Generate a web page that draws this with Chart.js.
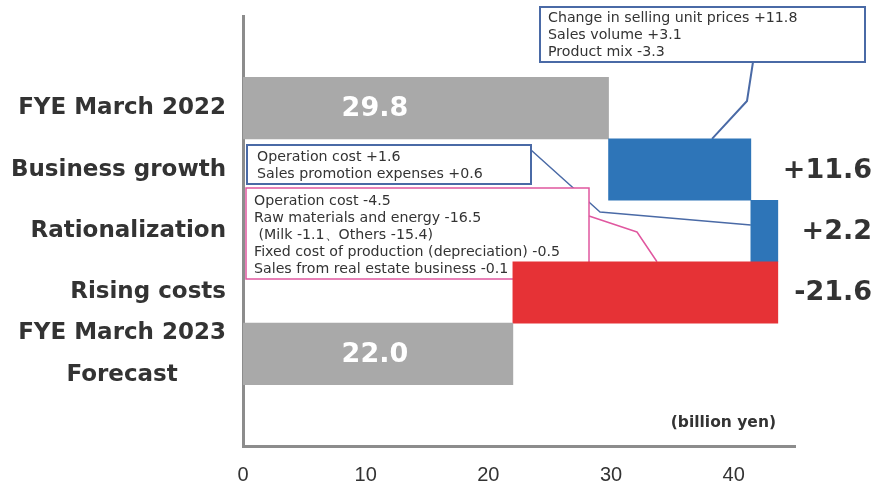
<!DOCTYPE html>
<html>
<head>
<meta charset="utf-8">
<script src="https://cdn.jsdelivr.net/npm/chart.js@4/dist/chart.umd.min.js"></script>
<style>
  html, body { margin: 0; padding: 0; background: #ffffff; }
  canvas { display: block; }
</style>
</head>
<body>
<canvas id="c" width="885" height="490" style="width:885px;height:490px"></canvas>
<script>
// Operating profit bridge, FYE March 2022 -> FYE March 2023 forecast (billion yen)
const categories = ['FYE March 2022', 'Business growth', 'Rationalization', 'Rising costs', ['FYE March 2023', 'Forecast']];
const amounts = [29.8, 11.6, 2.2, -21.6, 22.0];
const isTotal = [true, false, false, false, true];
const xTicks = [0, 10, 20, 30, 40];
const unitLabel = '(billion yen)';

const priceNotes = ['Change in selling unit prices +11.8', 'Sales volume +3.1', 'Product mix -3.3'];
const rationalNotes = ['Operation cost +1.6', 'Sales promotion expenses +0.6'];
const costNotes = ['Operation cost -4.5', 'Raw materials and energy -16.5', ' (Milk -1.1\u3001Others -15.4)',
                   'Fixed cost of production (depreciation) -0.5', 'Sales from real estate business -0.1'];

const GRAY = '#a9a9a9', BLUE = '#2e75b8', RED = '#e63236';
const TEXT = '#333333';
const FONT = '"DejaVu Sans", Verdana, sans-serif';
const TICK_FONT = '"Liberation Sans", Arial, sans-serif';

// running totals turn each step into a floating bar
let running = 0;
const ranges = amounts.map((v, i) => {
  if (isTotal[i]) { running = v; return [0, v]; }
  const from = running; running += v; return [from, running];
});
const colors = amounts.map((v, i) => isTotal[i] ? GRAY : (v > 0 ? BLUE : RED));

// an empty slot above and below keeps the bars off the axis ends
const slots = ['top', ...categories.map((c, i) => 'cat' + i), 'bottom'];

function fmtChange(v) { return (v > 0 ? '+' : '') + v.toFixed(1); }

function drawBox(ctx, x, y, w, h, lines, stroke, lw, tx, ty, lh) {
  ctx.save();
  ctx.fillStyle = '#ffffff';
  ctx.fillRect(x, y, w, h);
  ctx.strokeStyle = stroke; ctx.lineWidth = lw;
  ctx.strokeRect(x, y, w, h);
  ctx.fillStyle = TEXT;
  ctx.font = '14.2px ' + FONT;
  ctx.textAlign = 'left'; ctx.textBaseline = 'middle';
  lines.forEach((t, i) => ctx.fillText(t, tx, ty + i * lh));
  ctx.restore();
}
function polyline(ctx, pts, color, lw) {
  ctx.save();
  ctx.strokeStyle = color; ctx.lineWidth = lw; ctx.lineJoin = 'round';
  ctx.beginPath();
  pts.forEach((p, i) => i ? ctx.lineTo(p[0], p[1]) : ctx.moveTo(p[0], p[1]));
  ctx.stroke();
  ctx.restore();
}

const bridgeText = {
  id: 'bridgeText',
  beforeDatasetsDraw(chart) {
    const ctx = chart.ctx;
    const bars = chart.getDatasetMeta(0).data;
    const growthBar = bars[2], ratBar = bars[3], costBar = bars[4];
    const topOf = b => b.y - b.height / 2;

    // breakdown callouts
    drawBox(ctx, 540, 7, 325, 55, priceNotes, '#4a6aa6', 2, 548, 18, 17);
    polyline(ctx, [[753, 62], [747, 101], [712, topOf(growthBar)]], '#4a6aa6', 2);

    drawBox(ctx, 247, 145, 284, 39, rationalNotes, '#4a6aa6', 2, 257, 157, 17);
    polyline(ctx, [[531, 150], [600, 212], [Math.min(ratBar.base, ratBar.x), 225]], '#4a6aa6', 1.5);

    drawBox(ctx, 246, 188, 343, 91, costNotes, '#e0579f', 1.5, 254, 201, 17);
    polyline(ctx, [[589, 216], [637, 232], [657, topOf(costBar)]], '#e0579f', 1.5);
  },
  afterDatasetsDraw(chart) {
    const ctx = chart.ctx;
    const xs = chart.scales.x, ys = chart.scales.y;
    ctx.save();

    // category names, right aligned against the axis
    ctx.fillStyle = TEXT;
    ctx.font = 'bold 23px ' + FONT;
    ctx.textBaseline = 'middle';
    const right = xs.left - 17;
    categories.forEach((c, i) => {
      const cy = ys.getPixelForValue(i + 1);
      const lines = Array.isArray(c) ? c : [c];
      const lh = 42;
      const widest = Math.max(...lines.map(t => ctx.measureText(t).width));
      const cx = right - widest / 2;
      ctx.textAlign = 'center';
      lines.forEach((t, k) => ctx.fillText(t, cx, cy + (k - (lines.length - 1) / 2) * lh));
    });

    // totals inside the gray bars, changes to the right of the plot
    const totalX = xs.getPixelForValue(amounts[amounts.length - 1] / 2) - 3;
    amounts.forEach((v, i) => {
      const cy = ys.getPixelForValue(i + 1);
      ctx.font = 'bold 27px ' + FONT;
      if (isTotal[i]) {
        ctx.fillStyle = '#ffffff';
        ctx.textAlign = 'center';
        ctx.fillText(v.toFixed(1), totalX, cy + 1);
      } else {
        ctx.fillStyle = TEXT;
        ctx.textAlign = 'right';
        ctx.fillText(fmtChange(v), 872, cy + 1);
      }
    });

    ctx.fillStyle = TEXT;
    ctx.font = 'bold 15.5px ' + FONT;
    ctx.textAlign = 'right';
    ctx.fillText(unitLabel, 776, 423);
    ctx.restore();
  }
};

new Chart(document.getElementById('c'), {
  type: 'bar',
  data: {
    labels: slots,
    datasets: [{
      data: [null, ...ranges, null],
      backgroundColor: [null, ...colors, null],
      borderWidth: 0,
      barPercentage: 1,
      categoryPercentage: 1
    }]
  },
  options: {
    indexAxis: 'y',
    responsive: false,
    animation: false,
    devicePixelRatio: 1,
    layout: { padding: { top: 16, right: 90, left: 0, bottom: 0 } },
    plugins: { legend: { display: false }, tooltip: { enabled: false } },
    scales: {
      x: {
        type: 'linear',
        min: 0, max: 45,
        afterBuildTicks: s => { s.ticks = xTicks.map(v => ({ value: v })); },
        afterFit: s => { s.height = 44; },
        grid: { display: false, drawTicks: false },
        border: { display: true, color: '#8c8c8c', width: 3 },
        ticks: { color: TEXT, font: { family: TICK_FONT, size: 20 }, padding: 17, autoSkip: false, maxRotation: 0 }
      },
      y: {
        type: 'category',
        afterFit: s => { s.width = 243; },
        grid: { display: false, drawTicks: false },
        border: { display: true, color: '#8c8c8c', width: 3 },
        ticks: { display: false }
      }
    }
  },
  plugins: [bridgeText]
});
</script>
</body>
</html>
